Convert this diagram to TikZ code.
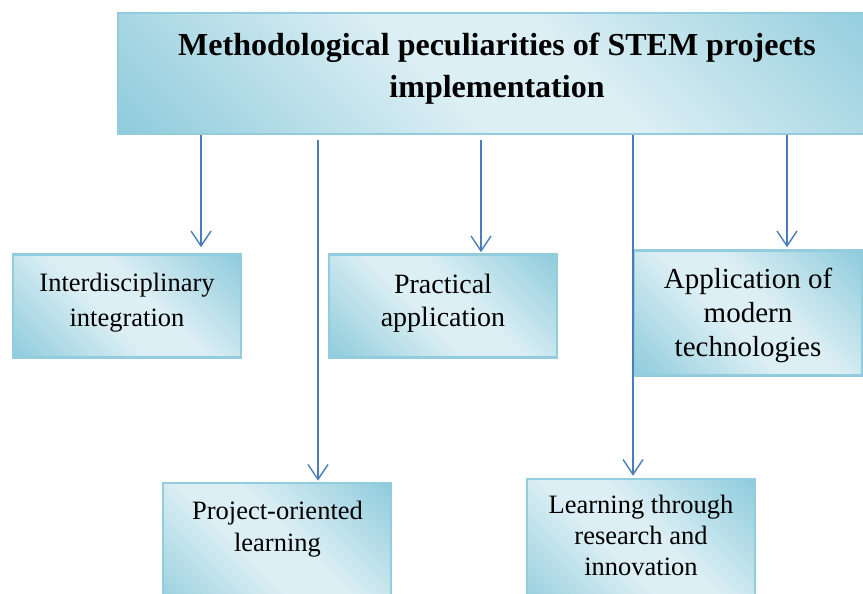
\documentclass[tikz,border=0pt]{standalone}
\usepackage{fontspec}
\setmainfont{Liberation Serif}
\usetikzlibrary{arrows.meta}
\definecolor{dk}{RGB}{146,205,221}
\definecolor{lt}{RGB}{220,239,244}
\definecolor{bordercol}{RGB}{147,205,221}
\definecolor{arrcol}{RGB}{74,126,187}
\pgfdeclareverticalshading{boxshade}{100bp}{color(0bp)=(dk); color(16bp)=(dk); color(44bp)=(lt); color(56bp)=(lt); color(84bp)=(dk); color(100bp)=(dk)}
\tikzset{
  box/.style={rectangle, draw=bordercol, line width=2.5pt, shade, shading=boxshade, shading angle=-45, inner sep=0pt},
  txt/.style={align=center, inner sep=0pt, text=black},
  arr/.style={draw=arrcol, line width=1.4pt, -{Straight Barb[length=15pt,width=20pt,line width=1.4pt]}}
}
\begin{document}
\begin{tikzpicture}[x=1pt,y=-1pt]
\useasboundingbox (0,0) rectangle (863,594);
\clip (0,0) rectangle (863,594);
% boxes
\node[box, minimum width=780pt, minimum height=121pt] (top) at (508,73.5) {};
\node[box, minimum width=228pt, minimum height=103pt] (inter) at (127,306) {};
\node[box, minimum width=228pt, minimum height=103pt] (prac) at (443,306) {};
\node[box, minimum width=228pt, minimum height=125pt] (appl) at (748,313) {};
\node[box, minimum width=228pt, minimum height=140pt] (proj) at (277,553) {};
\node[box, minimum width=228pt, minimum height=140pt] (learn) at (641,549) {};
% texts
\node[txt, font=\fontsize{32}{42}\selectfont\bfseries] (topT) at (497,68.6)
  {Methodological peculiarities of STEM projects\\implementation};
\node[txt, font=\fontsize{26.5}{35}\selectfont] (interT) at (127,302.4)
  {Interdisciplinary\\integration};
\node[txt, font=\fontsize{28}{33}\selectfont] (pracT) at (443,303)
  {Practical\\application};
\node[txt, font=\fontsize{29}{34}\selectfont] (applT) at (748,315.5)
  {Application of\\modern\\technologies};
\node[txt, font=\fontsize{26.5}{31.5}\selectfont] (projT) at (277.5,529)
  {Project-oriented\\learning};
\node[txt, font=\fontsize{26.5}{31}\selectfont] (learnT) at (641,535.5)
  {Learning through\\research and\\innovation};
% connectors
\draw[arr] (top.south -| 201,0) -- ([yshift=6pt]inter.north -| 201,0);
\draw[arr, shorten <=5pt] (top.south -| 318,0) -- ([yshift=1pt]proj.north -| 318,0);
\draw[arr, shorten <=5pt] (top.south -| 481,0) -- ([yshift=1pt]prac.north -| 481,0);
\draw[arr] (top.south -| 633,0) -- ([yshift=2pt]learn.north -| 633,0);
\draw[arr] (top.south -| 787,0) -- ([yshift=2pt]appl.north -| 787,0);
\end{tikzpicture}
\end{document}
